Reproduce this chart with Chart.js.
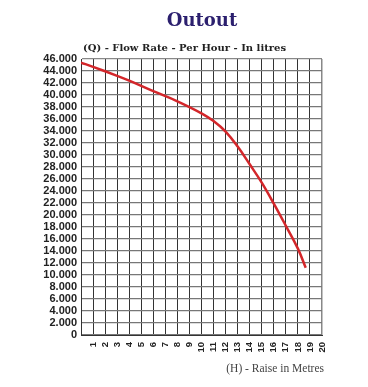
<!DOCTYPE html>
<html>
<head>
<meta charset="utf-8">
<script src="https://cdn.jsdelivr.net/npm/chart.js@4.4.0/dist/chart.umd.min.js"></script>
<style>
  html, body { margin: 0; padding: 0; background: #fff; }
  #wrap { width: 368px; height: 387px; }
</style>
</head>
<body>
<div id="wrap"><canvas id="pump" width="368" height="387"></canvas></div>
<script>
// Head (m) and flow (l/h)
const raise = [0, 1, 3, 4, 6, 8, 10, 11, 12, 13, 14, 15, 16, 17, 18, 18.65];
const flow = [45400, 44700, 43200, 42400, 40650, 38950, 36950, 35650, 33900, 31400, 28450, 25400, 21900, 18200, 14400, 11200];

const chartTitle = 'Outout';
const yCaption = '(Q) - Flow Rate - Per Hour - In litres';
const xCaption = '(H) - Raise in Metres';

// captions sit around the plot area, not in the data
const captions = {
    id: 'captions',
    afterDraw(chart) {
        const ctx = chart.ctx;
        const area = chart.chartArea;
        ctx.save();
        ctx.fillStyle = '#2b1f6e';
        ctx.font = 'bold 18px "DejaVu Serif"';
        ctx.textAlign = 'center';
        ctx.textBaseline = 'middle';
        ctx.fillText(chartTitle, 202, 21);

        ctx.fillStyle = '#222';
        ctx.font = 'bold 10px "DejaVu Serif"';
        ctx.textAlign = 'left';
        ctx.fillText(yCaption, area.left + 2, 48);

        ctx.fillStyle = '#444';
        ctx.font = '11.5px "Liberation Serif"';
        ctx.textAlign = 'right';
        ctx.fillText(xCaption, area.right + 2, 369);
        ctx.restore();
    }
};

new Chart(document.getElementById('pump'), {
    type: 'line',
    plugins: [captions],
    data: {
        datasets: [{
            data: raise.map((h, i) => ({ x: h, y: flow[i] })),
            borderColor: '#d3262a',
            borderWidth: 2.5,
            pointRadius: 0,
            tension: 0.4,
            fill: false,
        }]
    },
    options: {
        responsive: false,
        animation: false,
        layout: { padding: { top: 59, right: 46, left: 0, bottom: 0 } },
        plugins: {
            legend: { display: false },
            tooltip: { enabled: false },
        },
        scales: {
            x: {
                type: 'linear',
                min: 0,
                max: 20,
                afterFit: (s) => { s.height = 52; },
                border: { color: '#333', width: 1 },
                grid: {
                    drawTicks: false,
                    color: (c) => c.tick && c.tick.value === 20 ? '#888' : '#333',
                    lineWidth: (c) => c.tick && c.tick.value === 20 ? 1.5 : 1,
                },
                ticks: {
                    stepSize: 1,
                    autoSkip: false,
                    minRotation: 90,
                    maxRotation: 90,
                    padding: 7,
                    color: '#222',
                    font: { family: '"Liberation Sans"', weight: 'bold', size: 9.5 },
                    callback: (v) => v === 0 ? '' : String(v),
                },
            },
            y: {
                min: 0,
                max: 46000,
                afterFit: (s) => { s.width = 81; },
                border: { color: '#333', width: 1 },
                grid: {
                    drawTicks: false,
                    color: (c) => c.tick && c.tick.value === 46000 ? '#888' : '#777',
                    lineWidth: 1.3,
                },
                ticks: {
                    stepSize: 2000,
                    autoSkip: false,
                    padding: 4,
                    color: '#222',
                    font: { family: '"Liberation Sans"', weight: 'bold', size: 11 },
                    callback: (v) => v === 0 ? '0' : (v / 1000).toFixed(3),
                },
            },
        },
    },
});
</script>
</body>
</html>
